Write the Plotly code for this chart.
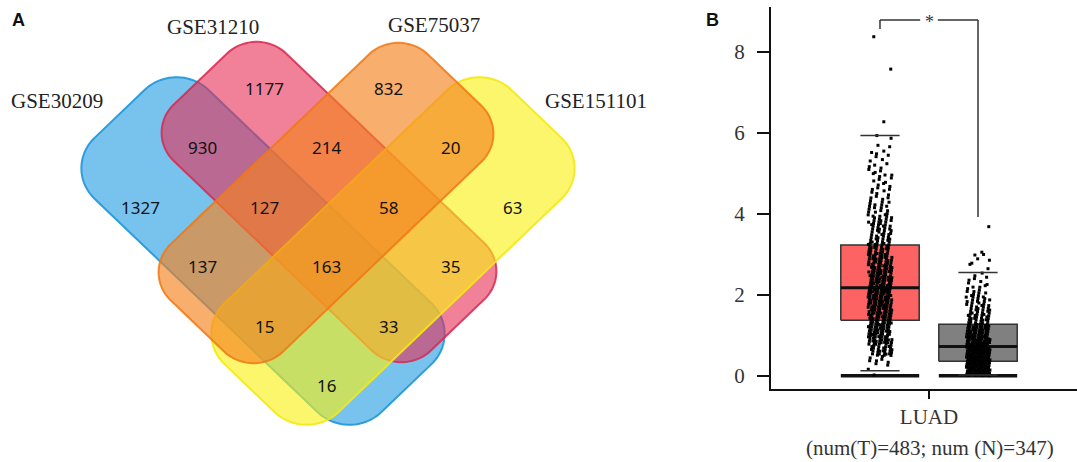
import numpy as np
import plotly.graph_objects as go

# ---------------- Panel A data (4-set Venn) ----------------
set_names = ["GSE30209", "GSE31210", "GSE75037", "GSE151101"]
region_keys = ["A", "B", "C", "D", "AB", "BC", "CD", "ABC", "BCD", "AC",
               "ABCD", "BD", "ACD", "ABD", "AD"]
region_counts = [1327, 1177, 832, 63, 930, 214, 20, 127, 58, 137,
                 163, 35, 15, 33, 16]

# ---------------- Panel B data (GEPIA-style box plot) ----------------
cancer = "LUAD"
groups = ["Tumor", "Normal"]
group_n = [483, 347]
q1 = [1.37, 0.36]
median = [2.17, 0.72]
q3 = [3.23, 1.27]
whisker_lo = [0.12, 0.02]
whisker_hi = [5.93, 2.55]
floor_value = [0.0, 0.0]
bin_width = 0.25
tumor_bin_counts = [2, 8, 26, 33, 35, 32, 35, 37, 38, 36, 33, 29, 25, 20,
                    18, 17, 12, 10, 8, 8, 7, 5, 4, 1]
normal_bin_counts = [60, 60, 58, 45, 36, 25, 20, 16, 10, 7, 3, 4]
tumor_outliers = [5.93, 6.27, 7.57, 8.37]
normal_outliers = [2.98, 3.05, 3.68]
sig_label = "*"
sample_note = "(num(T)=483; num (N)=347)"

# ---------------- styles / layout helpers ----------------
W_PX, H_PX = 1077, 462
SX = 1.045  # horizontal stretch of the original drawing

venn_geom = {
    "A": dict(cx=263, cy=251, L=194, W=77, r=43, ang=45),
    "B": dict(cx=329, cy=202, L=174, W=76, r=40, ang=45),
    "C": dict(cx=326, cy=203, L=174, W=76, r=40, ang=135),
    "D": dict(cx=393, cy=251, L=194, W=77, r=43, ang=135),
}
venn_fill = {
    "A": "rgba(30,155,225,0.60)",
    "B": "rgba(230,45,85,0.60)",
    "C": "rgba(245,130,30,0.65)",
    "D": "rgba(250,240,20,0.62)",
}
venn_line = {
    "A": "rgba(30,150,220,0.9)",
    "B": "rgba(215,40,80,0.85)",
    "C": "rgba(240,120,20,0.85)",
    "D": "rgba(245,232,20,0.9)",
}
draw_order = ["A", "B", "D", "C"]
set_label_pos = [(57, 101), (213, 27), (434, 25), (596, 101)]

region_uw = {
    "A": (-1.5, 1.5), "B": (-1.5, -0.5), "C": (-0.5, -1.5), "D": (1.5, -1.5),
    "AB": (-1.5, 0.5), "BC": (-0.5, -0.5), "CD": (0.5, -1.5), "ABC": (-0.5, 0.5),
    "BCD": (0.5, -0.5), "AC": (-0.5, 1.5), "ABCD": (0.5, 0.5), "BD": (1.5, -0.5),
    "ACD": (0.5, 1.5), "ABD": (1.5, 0.5), "AD": (1.5, 1.5),
}


def uw_to_px(u, w):
    return 326.5 + 62 * (u - w), 207 + 59.5 * (u + w)


def rrect_path(cx, cy, L, W, r, ang, n=24):
    a, b = L - r, W - r
    pts = []
    for (ccx, ccy, t0) in [(a, b, 0), (-a, b, 90), (-a, -b, 180), (a, -b, 270)]:
        for t in np.linspace(np.radians(t0), np.radians(t0 + 90), n):
            pts.append((ccx + r * np.cos(t), ccy + r * np.sin(t)))
    th = np.radians(ang)
    ux, uy = np.cos(th), np.sin(th)
    vx, vy = -np.sin(th), np.cos(th)
    out = []
    for lx, ly in pts:
        X = cx + SX * (lx * ux + ly * vx)
        Y = cy + (lx * uy + ly * vy)
        out.append(f"{X:.2f},{Y:.2f}")
    return "M " + " L ".join(out) + " Z"


fig = go.Figure()
fig.add_trace(go.Scatter(x=[], y=[], xaxis="x", yaxis="y", showlegend=False))

shapes = []
for key in draw_order:
    g = venn_geom[key]
    shapes.append(dict(type="path", xref="x", yref="y",
                       path=rrect_path(g["cx"], g["cy"], g["L"], g["W"], g["r"], g["ang"]),
                       fillcolor=venn_fill[key], line=dict(color=venn_line[key], width=2),
                       layer="above"))

annotations = []
for key, cnt in zip(region_keys, region_counts):
    x, y = uw_to_px(*region_uw[key])
    annotations.append(dict(x=x, y=y, xref="x", yref="y", text=str(cnt), showarrow=False,
                            font=dict(family="Noto Sans", size=17, color="#111111"),
                            xanchor="center", yanchor="middle"))
for name, (x, y) in zip(set_names, set_label_pos):
    annotations.append(dict(x=x, y=y, xref="x", yref="y", text=name, showarrow=False,
                            font=dict(family="Liberation Serif", size=21, color="#222222"),
                            xanchor="center", yanchor="middle"))
annotations.append(dict(x=18 / W_PX, y=1 - 20 / H_PX, xref="paper", yref="paper", text="<b>A</b>",
                        showarrow=False, font=dict(family="Liberation Sans", size=18, color="#111"),
                        xanchor="center", yanchor="middle"))
annotations.append(dict(x=712 / W_PX, y=1 - 20 / H_PX, xref="paper", yref="paper", text="<b>B</b>",
                        showarrow=False, font=dict(family="Liberation Sans", size=18, color="#111"),
                        xanchor="center", yanchor="middle"))

# ---------------- Panel B ----------------
group_x = [-0.5, 0.5]
box_hw = 0.40
cap_hw = 0.20
jit_hw = 0.122
box_fill = ["rgb(253,99,99)", "rgb(128,128,128)"]
A1, A2 = 0.7548776662, 0.5698402910  # R2 low-discrepancy steps for the jitter layout


def expand(counts, outliers, seed):
    vals, fx = [], []
    for i, c in enumerate(counts):
        lo = i * bin_width
        for k in range(c):
            t = k + 1 + 13 * i + seed
            fx.append((0.5 + t * A1) % 1.0)
            vals.append(lo + bin_width * ((0.5 + t * A2) % 1.0))
    for j, o in enumerate(outliers):
        fx.append((0.37 + 0.29 * j) % 1.0)
        vals.append(o)
    return np.array(vals), np.array(fx)


dots = [expand(tumor_bin_counts, tumor_outliers, 0), expand(normal_bin_counts, normal_outliers, 5)]

for i in range(2):
    c = group_x[i]
    fig.add_trace(go.Scatter(
        x=[c - box_hw, c + box_hw, c + box_hw, c - box_hw, c - box_hw],
        y=[q1[i], q1[i], q3[i], q3[i], q1[i]], mode="lines", fill="toself",
        fillcolor=box_fill[i], line=dict(color="#333333", width=1.5),
        xaxis="x2", yaxis="y2", showlegend=False, hoverinfo="skip"))
    fig.add_trace(go.Scatter(x=[c - box_hw, c + box_hw], y=[median[i], median[i]], mode="lines",
                             line=dict(color="#111111", width=3), xaxis="x2", yaxis="y2",
                             showlegend=False))
    fig.add_trace(go.Scatter(x=[c - box_hw, c + box_hw], y=[floor_value[i], floor_value[i]],
                             mode="lines", line=dict(color="#111111", width=3.5),
                             xaxis="x2", yaxis="y2", showlegend=False))

for i in range(2):
    c = group_x[i]
    v, fx = dots[i]
    xs = c + (fx - 0.5) * 2 * jit_hw
    fig.add_trace(go.Scatter(x=xs, y=v, mode="markers",
                             marker=dict(symbol="square", size=3, color="#000000"),
                             xaxis="x2", yaxis="y2", showlegend=False, hoverinfo="y"))
    for wv in (whisker_lo[i], whisker_hi[i]):
        fig.add_trace(go.Scatter(x=[c - cap_hw, c + cap_hw], y=[wv, wv], mode="lines",
                                 line=dict(color="#333333", width=1.5),
                                 xaxis="x2", yaxis="y2", showlegend=False))

br_top, br_left, br_right = 8.78, 8.56, 3.92
gap = 0.09
for seg in [((group_x[0], br_left), (group_x[0], br_top)),
            ((group_x[0], br_top), (-gap, br_top)),
            ((gap, br_top), (group_x[1], br_top)),
            ((group_x[1], br_top), (group_x[1], br_right))]:
    shapes.append(dict(type="line", xref="x2", yref="y2", x0=seg[0][0], y0=seg[0][1],
                       x1=seg[1][0], y1=seg[1][1], line=dict(color="#333333", width=1.5)))
annotations.append(dict(x=0, y=br_top, xref="x2", yref="y2", text=sig_label, showarrow=False,
                        font=dict(family="Liberation Serif", size=18, color="#333"),
                        xanchor="center", yanchor="middle", yshift=-2))
annotations.append(dict(x=930 / W_PX, y=1 - 448 / H_PX, xref="paper", yref="paper",
                        text=sample_note, showarrow=False,
                        font=dict(family="Liberation Serif", size=21, color="#333333"),
                        xanchor="center", yanchor="middle"))

fig.update_layout(
    width=W_PX, height=H_PX, margin=dict(l=0, r=0, t=0, b=0),
    paper_bgcolor="white", plot_bgcolor="white", showlegend=False,
    xaxis=dict(domain=[0, 700 / W_PX], range=[0, 700], visible=False, anchor="y"),
    yaxis=dict(domain=[0, 1], range=[H_PX, 0], visible=False, anchor="x"),
    xaxis2=dict(domain=[771 / W_PX, 1.0], range=[-1.612, 1.510], anchor="y2",
                showline=True, linecolor="#111111", linewidth=2, showgrid=False, zeroline=False,
                tickvals=[0], ticktext=[cancer], ticks="outside", ticklen=8, tickwidth=2,
                tickcolor="#111111", ticklabelstandoff=0,
                tickfont=dict(family="Liberation Serif", size=21, color="#333333")),
    yaxis2=dict(domain=[1 - 389 / H_PX, 1 - 7 / H_PX], range=[-0.328, 9.104], anchor="x2",
                showline=True, linecolor="#111111", linewidth=2, showgrid=False, zeroline=False,
                tickvals=[0, 2, 4, 6, 8], ticks="outside", ticklen=12, tickwidth=1.5,
                tickcolor="#111111", ticklabelstandoff=8,
                tickfont=dict(family="Liberation Serif", size=21, color="#333333")),
    shapes=shapes, annotations=annotations,
)

fig.write_html("out.html", config={"displayModeBar": False},
               post_script="document.body.style.margin='0';document.body.style.overflow='hidden';")
